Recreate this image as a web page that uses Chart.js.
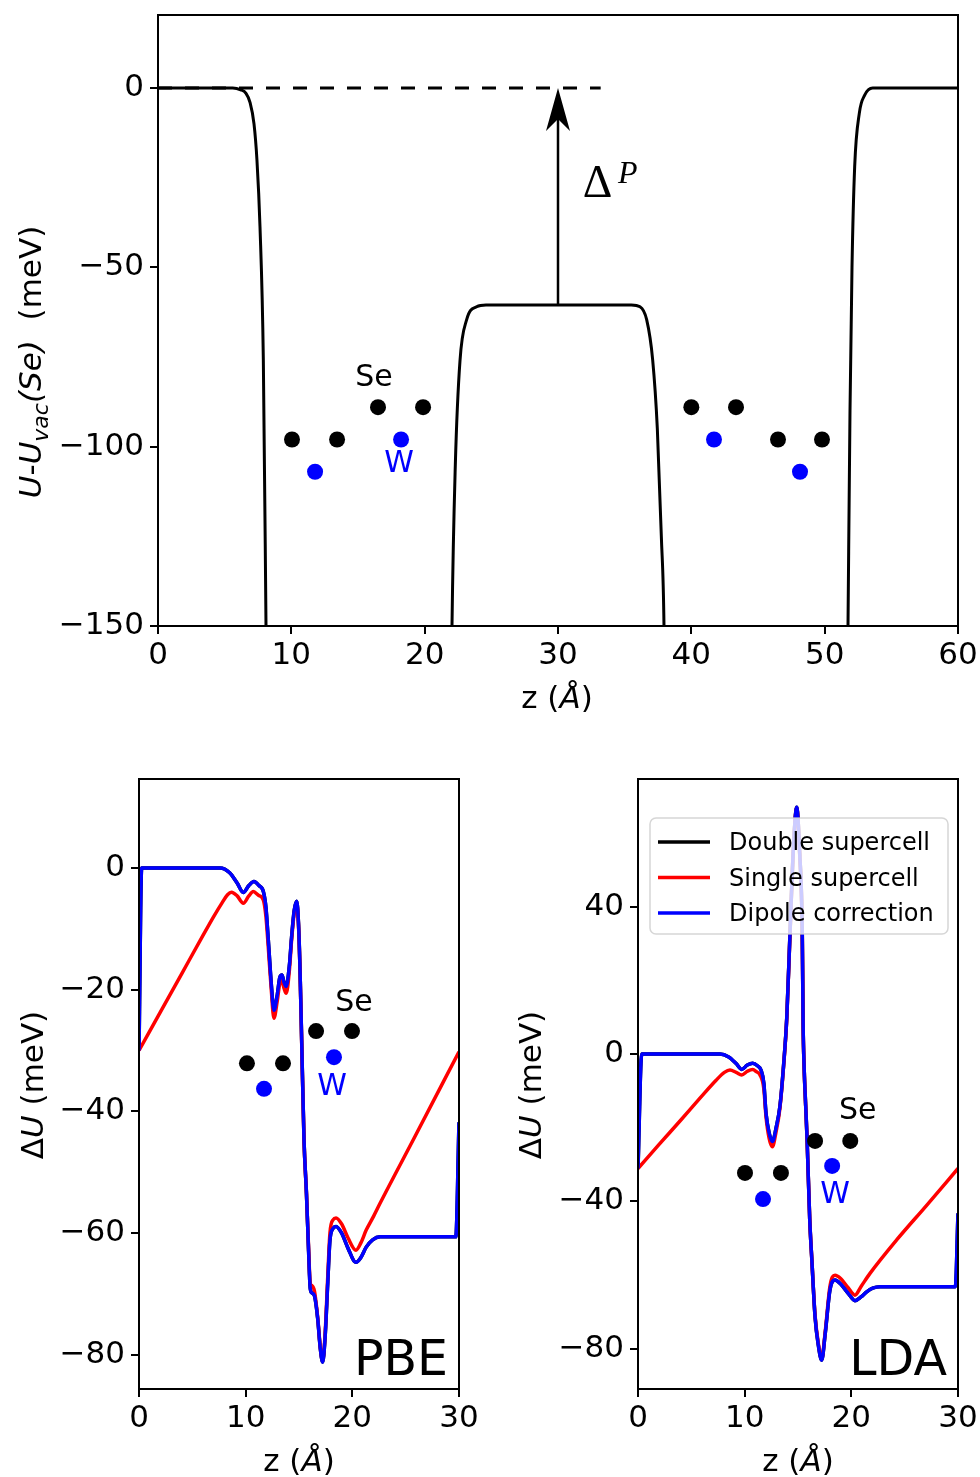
<!DOCTYPE html>
<html>
<head>
<meta charset="utf-8">
<script src="https://cdn.jsdelivr.net/npm/chart.js@4.4.0/dist/chart.umd.min.js"></script>
<style>
  html, body { margin: 0; padding: 0; background: #fff; }
  body { width: 980px; height: 1477px; position: relative; overflow: hidden; }
  canvas { position: absolute; }
</style>
</head>
<body>
<canvas id="topChart" width="980" height="730" style="left:0;top:0;width:980px;height:730px"></canvas>
<canvas id="pbeChart" width="490" height="737" style="left:0;top:740px;width:490px;height:737px"></canvas>
<canvas id="ldaChart" width="490" height="737" style="left:490px;top:740px;width:490px;height:737px"></canvas>
<script>
// ── DATA ───────────────────────────────────────────────────
// top panel: double supercell potential, z in Å, U in meV
const topZ = [0, 5.6, 6.2, 6.6, 6.9, 7.2, 7.42, 7.65, 7.9, 8.1, 8.35,
  21.8, 22.05, 22.3, 22.65, 23.15, 23.9, 24.6, 35.5, 36.15, 36.65, 37.1, 37.45, 37.75, 37.95, 38.2,
  51.5, 51.75, 51.9, 52.05, 52.25, 52.6, 53.0, 53.6, 60];
const topU = [0, 0, -0.5, -1.5, -4, -10, -20, -38.7, -75.8, -150, -250,
  -250, -150, -105, -76, -64.6, -61, -60.5, -60.5, -61, -64.6, -75.8, -95, -125, -150, -250,
  -250, -150, -90, -50, -22, -7, -2, 0, 0];
const topXTicks = [0, 10, 20, 30, 40, 50, 60];
const topYTicks = [-150, -100, -50, 0];
const vacLineZ = [0, 33.2];
const vacLineU = [0, 0];
const arrowZ = 30, arrowFrom = -60.5, arrowTo = 0;
const topSeZ = [10.05, 13.43, 16.5, 19.88, 40.0, 43.35, 46.5, 49.8];
const topSeU = [-98, -98, -89, -89, -89, -89, -98, -98];
const topWZ = [11.78, 18.23, 41.7, 48.15];
const topWU = [-107, -98, -98, -107];

// bottom panels: ΔU (meV) vs z (Å)
const legendNames = ['Double supercell', 'Single supercell', 'Dipole correction'];
const bottomXTicks = [0, 10, 20, 30];

const pbeDipZ = [0, 0.25, 7.6, 8.5, 9.2, 9.78, 10.3, 10.78, 11.25, 11.66, 11.9, 12.12, 12.4, 12.65,
  12.95, 13.2, 13.4, 13.6, 13.8, 14.1, 14.3, 14.55, 14.78, 14.95, 15.1, 15.25, 15.47, 15.7, 15.9,
  16.05, 16.2, 16.45, 16.75, 17.0, 17.22, 17.45, 17.7, 17.9, 18.2, 18.47, 19.0, 19.6, 20.34, 20.8,
  21.3, 21.9, 22.6, 29.7, 30];
const pbeDipU = [-30, 0, 0, -0.8, -2.5, -4.05, -2.9, -2.25, -2.9, -3.9, -6.5, -11.8, -19, -23.4,
  -21, -18, -17.6, -18.8, -19.5, -16, -11.5, -7, -5.5, -9, -17, -28.3, -44.7, -53.5, -63,
  -69, -69.8, -70.3, -74, -79, -81.2, -77, -68, -61.2, -59.2, -58.9, -60, -62.5, -64.8, -64,
  -62.3, -61.1, -60.6, -60.6, -41.8];
const pbeSingleZ = [0, 2, 4, 6, 7, 7.8, 8.3, 8.68, 9.2, 9.78, 10.3, 10.72, 11.2, 11.66, 11.9, 12.12,
  12.4, 12.65, 12.95, 13.2, 13.4, 13.6, 13.8, 14.1, 14.3, 14.55, 14.78, 14.95, 15.1, 15.25, 15.47,
  15.7, 15.9, 16.05, 16.2, 16.45, 16.75, 17.0, 17.22, 17.45, 17.7, 17.9, 18.2, 18.47, 19.0, 19.6,
  20.34, 20.8, 21.3, 22.0, 22.6, 25.7, 30];
const pbeSingleU = [-30, -23.7, -17.4, -11.1, -8.0, -5.7, -4.4, -4.0, -4.6, -5.8, -4.6, -3.9, -4.5,
  -5.3, -8, -13, -20, -24.7, -22, -19, -18.6, -19.8, -20.6, -16.8, -12, -7.4, -5.8, -9.3, -17.2,
  -28.5, -44.8, -53.5, -62.5, -68.2, -68.6, -69.5, -73.8, -78.8, -81, -76.5, -67, -60, -57.8,
  -57.5, -58.5, -60.8, -62.8, -61.6, -59.5, -57.2, -55.1, -44.7, -30.2];
// the double supercell curve lies under the dipole-corrected one
const pbeDoubleZ = pbeDipZ;
const pbeDoubleU = pbeDipU;
const pbeYTicks = [-80, -60, -40, -20, 0];
const pbeSeZ = [10.12, 13.5, 16.6, 19.97];
const pbeSeU = [-32.1, -32.1, -26.8, -26.8];
const pbeWZ = [11.72, 18.28];
const pbeWU = [-36.3, -31.1];

const ldaDipZ = [0, 0.35, 7.7, 8.5, 9.2, 9.72, 10.25, 10.75, 11.2, 11.53, 11.8, 12.0, 12.3, 12.6,
  12.95, 13.3, 13.65, 13.95, 14.25, 14.56, 14.88, 15.15, 15.4, 15.48, 15.58, 15.72, 15.85, 16.1,
  16.3, 16.6, 16.9, 17.22, 17.55, 18.0, 18.47, 19.0, 19.7, 20.34, 20.9, 21.44, 22.0, 22.7, 29.75, 30];
const ldaDipU = [-31.1, 0, 0, -0.8, -2.6, -4.2, -3.0, -2.5, -3.2, -4.35, -8, -16.1, -21.5, -23.8,
  -20, -14.3, -3, 10, 32.8, 55.4, 67, 55, 32.8, 8, -4, -14, -23, -45,
  -56, -71.4, -79, -83.2, -76, -64, -61.4, -62.5, -65, -67, -66, -64.6, -63.6, -63.2, -63.2, -43.3];
const ldaSingleZ = [0, 2, 4, 5.81, 7.3, 8.1, 8.62, 9.2, 9.72, 10.25, 10.75, 11.1, 11.44, 11.8, 12.0,
  12.3, 12.6, 12.95, 13.3, 13.65, 13.95, 14.25, 14.56, 14.88, 15.15, 15.4, 15.48, 15.58, 15.72,
  15.85, 16.1, 16.3, 16.6, 16.9, 17.22, 17.55, 18.0, 18.47, 19.0, 19.7, 20.34, 20.9, 21.75, 24.25, 27, 30];
const ldaSingleU = [-31.1, -24.5, -18, -12, -7.2, -5.0, -4.35, -5.0, -5.7, -4.7, -4.2, -4.8, -5.7,
  -9.5, -17, -23, -25.2, -21, -14.8, -3.3, 9.8, 32.6, 55.2, 66.8, 54.8, 32.6, 7.8, -4.2, -14.2,
  -23.2, -45, -56, -71, -78.5, -82.8, -75.5, -63, -60.1, -61, -63.5, -65.5, -63.2, -59.6, -50.5, -41.3, -31.1];
const ldaDoubleZ = ldaDipZ;
const ldaDoubleU = ldaDipU;
const ldaYTicks = [-80, -40, 0, 40];
const ldaSeZ = [10.03, 13.4, 16.6, 19.9];
const ldaSeU = [-32.3, -32.3, -23.6, -23.6];
const ldaWZ = [11.72, 18.2];
const ldaWU = [-39.4, -30.4];

// ── HELPERS ────────────────────────────────────────────────
const FONT = "'DejaVu Sans', sans-serif";
const SERIF = "'Liberation Serif', 'DejaVu Serif', serif";
const BLUE = '#0000ff';
const RED = '#ff0000';
Chart.defaults.font.family = FONT;

const pts = (zs, us) => zs.map((z, i) => ({ x: z, y: us[i] }));
const fmt = v => (v < 0 ? '\u2212' + Math.abs(v) : String(v));

function axis(min, max, ticks, size, padding) {
  return {
    type: 'linear', min, max,
    afterBuildTicks: s => { s.ticks = ticks.map(v => ({ value: v })); },
    afterFit: s => {
      if (s.isHorizontal()) { s.height = size; s.paddingLeft = 0; s.paddingRight = 0; }
      else { s.width = size; s.paddingTop = 0; s.paddingBottom = 0; }
    },
    ticks: { font: { size: 31 }, color: '#000', padding, autoSkip: false, maxRotation: 0, callback: fmt },
    grid: { drawOnChartArea: false, drawTicks: true, tickLength: 8, color: '#000', lineWidth: 2 },
    border: { display: true, color: '#000', width: 2 },
  };
}

function line(data, color, width, order, extra) {
  return Object.assign({ data, borderColor: color, borderWidth: width, pointRadius: 0,
    fill: false, order, cubicInterpolationMode: 'monotone' }, extra || {});
}

function dots(data, color) {
  return { data, showLine: false, pointRadius: 8, pointHoverRadius: 8, pointBorderWidth: 0,
    pointBackgroundColor: color, backgroundColor: color, order: 0 };
}

// text made of runs with their own style (italic, subscript)
function richText(ctx, runs, cx, cy, angle) {
  const fontOf = r => (r.it ? 'italic ' : '') + (r.size || 31) + 'px ' + FONT;
  ctx.save();
  ctx.translate(cx, cy);
  ctx.rotate(angle);
  let w = 0;
  runs.forEach(r => { ctx.font = fontOf(r); r.w = ctx.measureText(r.t).width; w += r.w; });
  let x = -w / 2;
  ctx.fillStyle = '#000';
  ctx.textBaseline = 'alphabetic';
  runs.forEach(r => { ctx.font = fontOf(r); ctx.fillText(r.t, x, 11 + (r.dy || 0)); x += r.w; });
  ctx.restore();
}

function labelAt(chart, text, z, u, color, size) {
  const { ctx, scales: { x, y } } = chart;
  ctx.save();
  ctx.font = size + 'px ' + FONT;
  ctx.fillStyle = color;
  ctx.textAlign = 'center';
  ctx.textBaseline = 'middle';
  ctx.fillText(text, x.getPixelForValue(z), y.getPixelForValue(u));
  ctx.restore();
}

const framePlugin = {
  id: 'frame',
  afterDraw(chart) {
    const { ctx, chartArea: a } = chart;
    ctx.save();
    ctx.strokeStyle = '#000';
    ctx.lineWidth = 2;
    ctx.strokeRect(a.left, a.top, a.right - a.left, a.bottom - a.top);
    ctx.restore();
  }
};

const xTitle = [{ t: 'z (' }, { t: '\u00c5', it: true }, { t: ')' }];
const dUTitle = [{ t: '\u0394' }, { t: 'U', it: true }, { t: ' (meV)' }];

function makeChart(id, datasets, scales, padding, extra) {
  return new Chart(document.getElementById(id), {
    type: 'line',
    data: { datasets },
    options: {
      responsive: false,
      animation: false,
      layout: { padding },
      plugins: { legend: { display: false }, tooltip: { enabled: false } },
      scales,
    },
    plugins: [framePlugin, extra],
  });
}

// ── TOP PANEL ──────────────────────────────────────────────
makeChart('topChart', [
  dots(pts(topWZ, topWU), BLUE),
  dots(pts(topSeZ, topSeU), '#000'),
  line(pts(topZ, topU), '#000', 3, 1),
  line(pts(vacLineZ, vacLineU), '#000', 2.8, 2, { borderDash: [14, 13], cubicInterpolationMode: 'default' }),
], {
  x: axis(0, 60, topXTicks, 104, 3),
  y: axis(-150, 20.35, topYTicks, 158, 6),
}, { left: 0, right: 22, top: 15, bottom: 0 }, {
  id: 'topExtra',
  afterDatasetsDraw(chart) {
    const { ctx, scales: { x, y } } = chart;
    const ax = x.getPixelForValue(arrowZ);
    const yb = y.getPixelForValue(arrowFrom);
    const yt = y.getPixelForValue(arrowTo);
    ctx.save();
    ctx.strokeStyle = '#000';
    ctx.fillStyle = '#000';
    ctx.lineWidth = 2.5;
    ctx.beginPath(); ctx.moveTo(ax, yb); ctx.lineTo(ax, yt + 30); ctx.stroke();
    ctx.beginPath();
    ctx.moveTo(ax, yt); ctx.lineTo(ax - 12, yt + 43); ctx.lineTo(ax, yt + 31); ctx.lineTo(ax + 12, yt + 43);
    ctx.closePath(); ctx.fill();
    ctx.textBaseline = 'alphabetic';
    ctx.font = '46px ' + SERIF;
    ctx.fillText('\u0394', x.getPixelForValue(31.85), y.getPixelForValue(-30.4));
    ctx.font = 'italic 32px ' + SERIF;
    ctx.fillText('P', x.getPixelForValue(34.5), y.getPixelForValue(-26.5));
    ctx.restore();
    labelAt(chart, 'Se', 16.2, -80.8, '#000', 30);
    labelAt(chart, 'W', 18.08, -105, BLUE, 30);
  },
  afterDraw(chart) {
    const { ctx } = chart;
    richText(ctx, xTitle, 557, 697, 0);
    richText(ctx, [{ t: 'U', it: true }, { t: '-' }, { t: 'U', it: true },
      { t: 'vac', it: true, size: 22, dy: 7 }, { t: '(Se)', it: true }, { t: '  (meV)' }], 30, 362, -Math.PI / 2);
  }
});

// ── BOTTOM PANELS ──────────────────────────────────────────
function bottomPanel(id, o) {
  return makeChart(id, [
    dots(pts(o.wZ, o.wU), BLUE),
    dots(pts(o.seZ, o.seU), '#000'),
    line(pts(o.dipZ, o.dipU), BLUE, 3.5, 1),
    line(pts(o.singleZ, o.singleU), RED, 3.5, 2),
    line(pts(o.doubleZ, o.doubleU), '#000', 3.5, 3),
  ], {
    x: axis(0, 30, bottomXTicks, 88, 3),
    y: axis(o.yMin, o.yMax, o.yTicks, o.yWidth, 6),
  }, { left: 0, right: o.padRight, top: 39, bottom: 0 }, {
    id: id + 'Extra',
    afterDatasetsDraw(chart) {
      const { ctx, chartArea: a } = chart;
      labelAt(chart, 'Se', o.seText[0], o.seText[1], '#000', 30);
      labelAt(chart, 'W', o.wText[0], o.wText[1], BLUE, 30);
      ctx.save();
      ctx.font = '49px ' + FONT;
      ctx.fillStyle = '#000';
      ctx.textAlign = 'right';
      ctx.textBaseline = 'alphabetic';
      ctx.fillText(o.name, a.right - 11, a.bottom - 14);
      ctx.restore();
      if (o.legend) {
        const bx = a.left + 12, by = a.top + 39, bw = a.right - 10 - bx, bh = 116, r = 6;
        ctx.save();
        ctx.beginPath();
        ctx.moveTo(bx + r, by);
        ctx.arcTo(bx + bw, by, bx + bw, by + bh, r);
        ctx.arcTo(bx + bw, by + bh, bx, by + bh, r);
        ctx.arcTo(bx, by + bh, bx, by, r);
        ctx.arcTo(bx, by, bx + bw, by, r);
        ctx.closePath();
        ctx.fillStyle = 'rgba(255,255,255,0.8)';
        ctx.fill();
        ctx.strokeStyle = 'rgba(204,204,204,0.8)';
        ctx.lineWidth = 1.5;
        ctx.stroke();
        const colors = ['#000', RED, BLUE];
        ctx.font = '24px ' + FONT;
        ctx.textBaseline = 'middle';
        legendNames.forEach((name, i) => {
          const cy = by + 24 + i * 35.5;
          ctx.strokeStyle = colors[i];
          ctx.lineWidth = 3.5;
          ctx.beginPath(); ctx.moveTo(bx + 8, cy); ctx.lineTo(bx + 60, cy); ctx.stroke();
          ctx.fillStyle = '#000';
          ctx.fillText(name, bx + 79, cy + 2);
        });
        ctx.restore();
      }
    },
    afterDraw(chart) {
      const { ctx } = chart;
      richText(ctx, xTitle, o.xTitleX, 720, 0);
      richText(ctx, dUTitle, o.yTitleX, 345, -Math.PI / 2);
    }
  });
}

bottomPanel('pbeChart', {
  name: 'PBE', dipZ: pbeDipZ, dipU: pbeDipU, singleZ: pbeSingleZ, singleU: pbeSingleU,
  doubleZ: pbeDoubleZ, doubleU: pbeDoubleU, seZ: pbeSeZ, seU: pbeSeU, wZ: pbeWZ, wU: pbeWU,
  yMin: -85.6, yMax: 14.6, yTicks: pbeYTicks, yWidth: 139, padRight: 31,
  seText: [20.16, -22.2], wText: [18.1, -36.0], xTitleX: 299, yTitleX: 32, legend: false,
});

bottomPanel('ldaChart', {
  name: 'LDA', dipZ: ldaDipZ, dipU: ldaDipU, singleZ: ldaSingleZ, singleU: ldaSingleU,
  doubleZ: ldaDoubleZ, doubleU: ldaDoubleU, seZ: ldaSeZ, seU: ldaSeU, wZ: ldaWZ, wU: ldaWU,
  yMin: -91, yMax: 74.7, yTicks: ldaYTicks, yWidth: 148, padRight: 22,
  seText: [20.6, -15.5], wText: [18.47, -38.3], xTitleX: 308, yTitleX: 40, legend: true,
});
</script>
</body>
</html>
